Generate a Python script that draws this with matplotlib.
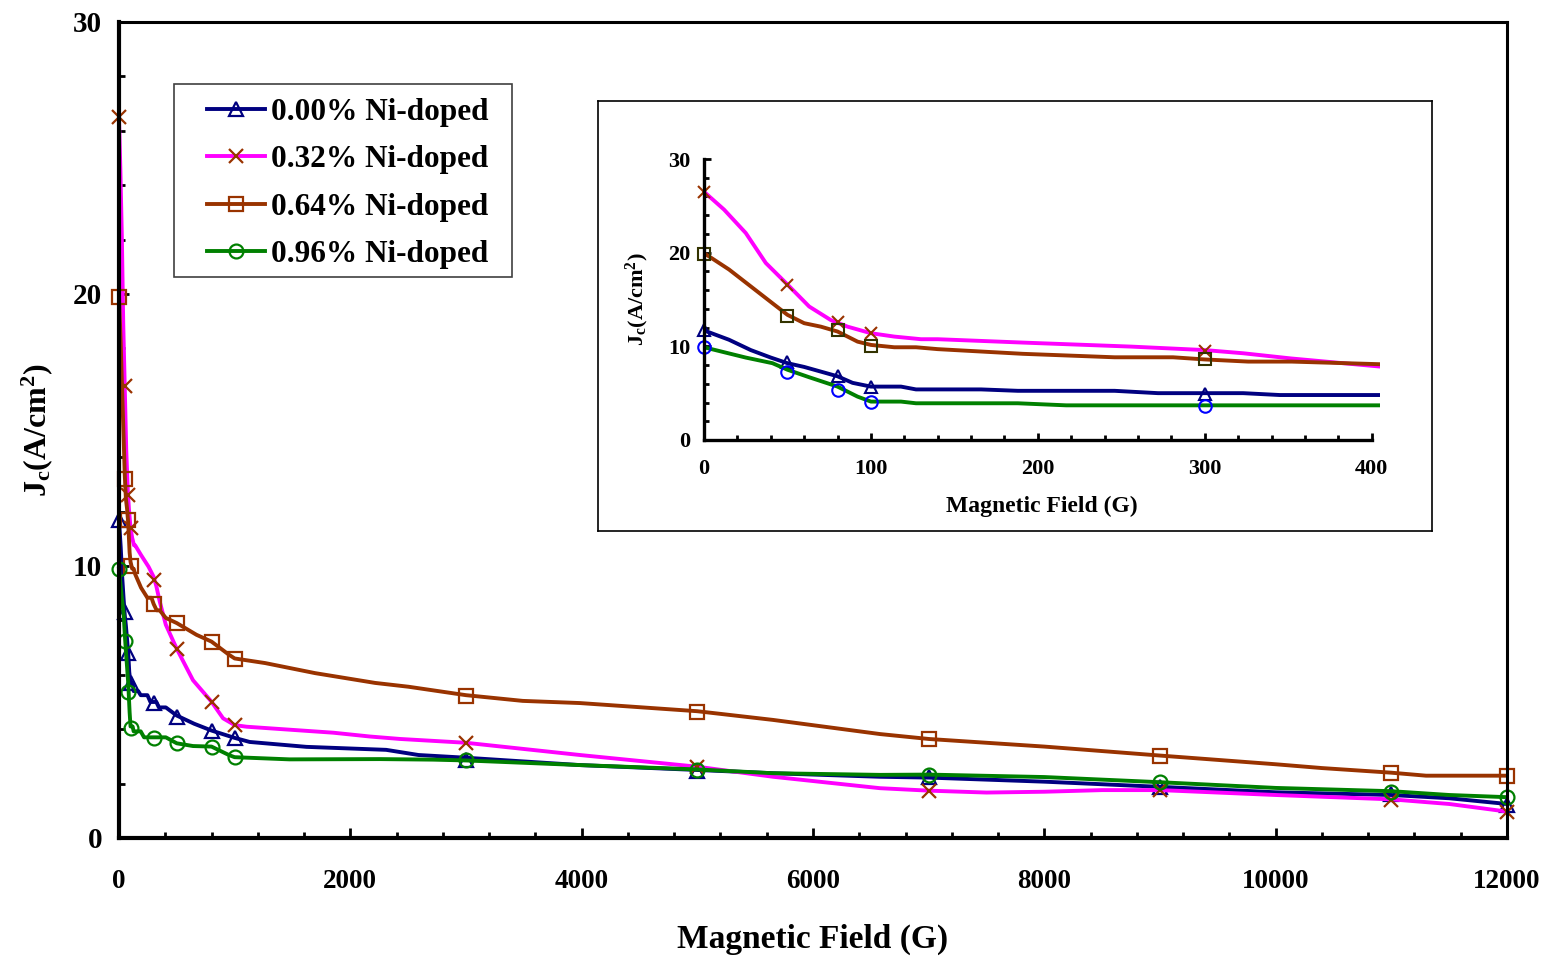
import matplotlib
matplotlib.use("Agg")
import matplotlib.pyplot as plt
from matplotlib.lines import Line2D
from matplotlib.patches import Rectangle
from matplotlib.ticker import MultipleLocator


# =========================
# 데이터
# =========================

SERIES_LABELS = ["0.00% Ni-doped", "0.32% Ni-doped", "0.64% Ni-doped", "0.96% Ni-doped"]

# marker positions (G)
MARK_X = [0, 50, 80, 100, 300, 500, 800, 1000, 3000, 5000, 7000, 9000, 11000, 12000]
INSET_MARK_X = [0, 50, 80, 100, 300]

NAVY_MY = [11.7, 8.3, 6.8, 5.7, 4.95, 4.46, 3.93, 3.66, 2.87, 2.47, 2.24, 1.86, 1.6, 1.22]
PINK_MY = [26.5, 16.6, 12.6, 11.4, 9.5, 6.95, 5.01, 4.15, 3.48, 2.6, 1.72, 1.76, 1.4, 0.97]
BROWN_MY = [19.9, 13.2, 11.7, 10.0, 8.6, 7.9, 7.22, 6.58, 5.23, 4.64, 3.63, 3.01, 2.38, 2.29]
GREEN_MY = [9.9, 7.25, 5.35, 4.05, 3.66, 3.48, 3.36, 2.97, 2.87, 2.5, 2.33, 2.05, 1.7, 1.5]

# line paths
NAVY_X = [0, 15, 28, 40, 50, 60, 70, 80, 89, 100, 118, 127, 166, 188, 246, 272, 323, 345, 405,
          500, 650, 800, 1000, 1130, 1620, 2310, 2590, 3000, 3985, 5000, 5655, 6580, 7000,
          8000, 9000, 10000, 11000, 11500, 12000]
NAVY_Y = [11.7, 10.7, 9.6, 8.8, 8.2, 7.8, 7.3, 6.8, 6.1, 5.7, 5.7, 5.4, 5.4, 5.25, 5.25, 5.0, 5.0, 4.8, 4.8,
          4.5, 4.2, 3.95, 3.68, 3.53, 3.35, 3.24, 3.05, 2.95, 2.68, 2.5, 2.38, 2.25, 2.22,
          2.07, 1.88, 1.68, 1.58, 1.46, 1.25]

PINK_X = [0, 12, 25, 37, 50, 63, 76, 86, 100, 114, 130, 140, 191, 256, 300, 323, 352, 405,
          500, 640, 800, 900, 1000, 1104, 1853, 2170, 2430, 3000, 3985, 5000, 5655, 6580, 7000,
          7500, 8000, 8500, 9000, 10000, 11000, 11500, 12000]
PINK_Y = [26.5, 24.6, 22.1, 18.9, 16.6, 14.25, 12.8, 12.1, 11.4, 11.04, 10.76, 10.76, 10.4, 9.97, 9.6, 9.26, 8.7, 7.84,
          6.95, 5.8, 5.01, 4.4, 4.15, 4.09, 3.87, 3.73, 3.64, 3.5, 3.05, 2.62, 2.25, 1.83, 1.74,
          1.67, 1.70, 1.76, 1.76, 1.58, 1.42, 1.25, 0.97]

BROWN_X = [0, 15, 28, 41, 50, 60, 70, 80, 92, 100, 114, 127, 140, 191, 246, 281, 300, 326, 352, 405,
           500, 670, 800, 950, 1000, 1264, 1696, 2215, 2503, 3000, 3490, 3985, 5000, 5655, 6580, 7000,
           8000, 9000, 10000, 10400, 11000, 11300, 12000]
BROWN_Y = [19.95, 18.2, 16.4, 14.6, 13.36, 12.47, 12.1, 11.58, 10.5, 10.15, 9.9, 9.9, 9.7, 9.2, 8.83, 8.83, 8.6, 8.37, 8.37, 8.09,
           7.9, 7.47, 7.22, 6.74, 6.6, 6.43, 6.06, 5.7, 5.56, 5.25, 5.04, 4.96, 4.66, 4.34, 3.82, 3.64,
           3.36, 3.03, 2.71, 2.57, 2.4, 2.29, 2.29]

GREEN_X = [0, 25, 41, 50, 63, 80, 92, 100, 118, 127, 188, 217, 405,
           500, 640, 800, 950, 1000, 1474, 2256, 2717, 3000, 3985, 5000, 5655, 6580, 7000,
           8000, 9000, 10000, 11000, 11500, 12000]
GREEN_Y = [9.9, 8.8, 8.2, 7.5, 6.7, 5.7, 4.63, 4.1, 4.1, 3.92, 3.92, 3.7, 3.7,
           3.48, 3.38, 3.36, 3.05, 2.97, 2.89, 2.9, 2.88, 2.85, 2.68, 2.52, 2.38, 2.32, 2.33,
           2.24, 2.05, 1.84, 1.72, 1.58, 1.5]


# =========================
# 스타일
# =========================

plt.rcParams["font.family"] = "Liberation Serif"
plt.rcParams["font.weight"] = "bold"
plt.rcParams["axes.labelweight"] = "bold"
plt.rcParams["mathtext.fontset"] = "custom"
plt.rcParams["mathtext.rm"] = "Liberation Serif:bold"
plt.rcParams["mathtext.it"] = "Liberation Serif:bold"
plt.rcParams["mathtext.bf"] = "Liberation Serif:bold"

BROWN = "#993300"
series = [
    dict(x=NAVY_X, y=NAVY_Y, my=NAVY_MY, color="#000080", marker="^", mec="#000080", imec="#000080"),
    dict(x=PINK_X, y=PINK_Y, my=PINK_MY, color="#FF00FF", marker="x", mec=BROWN, imec=BROWN),
    dict(x=BROWN_X, y=BROWN_Y, my=BROWN_MY, color=BROWN, marker="s", mec=BROWN, imec="#333300"),
    dict(x=GREEN_X, y=GREEN_Y, my=GREEN_MY, color="#008000", marker="o", mec="#008000", imec="#0000FF"),
]

fig = plt.figure(figsize=(15.49, 9.59), dpi=100)

# =========================
# 메인 그래프
# =========================

ax = fig.add_axes([0.0768, 0.1262, 0.8961, 0.8509])
for s in series:
    ax.plot(s["x"], s["y"], color=s["color"], lw=2.8, solid_joinstyle="round", clip_on=False)
    ax.plot(MARK_X, s["my"], linestyle="none", marker=s["marker"], ms=10, mfc="none",
            mec=s["mec"], mew=1.6, clip_on=False)

ax.set_xlim(0, 12000)
ax.set_ylim(0, 30)
ax.xaxis.set_major_locator(MultipleLocator(2000))
ax.xaxis.set_minor_locator(MultipleLocator(400))
ax.yaxis.set_major_locator(MultipleLocator(10))
ax.yaxis.set_minor_locator(MultipleLocator(2))
ax.tick_params(which="both", direction="in", top=False, right=False, width=2)
ax.tick_params(which="major", length=7)
ax.tick_params(which="minor", length=4)
ax.tick_params(axis="x", pad=22, labelsize=19.5)
ax.tick_params(axis="y", pad=12, labelsize=21)
for side in ["left", "bottom"]:
    ax.spines[side].set_linewidth(3)
for side in ["top", "right"]:
    ax.spines[side].set_linewidth(2.2)

ax.set_xlabel("Magnetic Field (G)", fontsize=24, labelpad=22)
ax.set_ylabel(r"J$_{c}$(A/cm$^{2}$)", fontsize=23, labelpad=13)

# legend frame box + legend contents
box = Rectangle((174 / 1549, 1 - 277 / 959), (512 - 174) / 1549, (277 - 84) / 959,
                transform=fig.transFigure, facecolor="white", edgecolor="#404040",
                lw=1.2, zorder=4, clip_on=False)
ax.add_patch(box)

handles = [
    Line2D([], [], color=s["color"], lw=2.8, marker=s["marker"], ms=10, mfc="none", mec=s["mec"], mew=1.6)
    for s in series
]
leg = ax.legend(handles, SERIES_LABELS, loc="upper left", bbox_to_anchor=(0.1336, 0.8975),
                bbox_transform=fig.transFigure, fontsize=22.5, frameon=False,
                handlelength=1.85, handletextpad=0.2, labelspacing=0.58, borderpad=0,
                borderaxespad=0)
leg.set_zorder(5)

# =========================
# 삽입 그래프
# =========================

frame = fig.add_axes([0.3861, 0.4463, 0.5384, 0.4484])
frame.set_xticks([])
frame.set_yticks([])
frame.set_facecolor("white")
for sp in frame.spines.values():
    sp.set_linewidth(1.2)

ins = fig.add_axes([0.4545, 0.5412, 0.4364, 0.2930])
ins.patch.set_alpha(0)
for s in series:
    ins.plot(s["x"], s["y"], color=s["color"], lw=2.8, solid_joinstyle="round")
    ins.plot(INSET_MARK_X, s["my"][:len(INSET_MARK_X)], linestyle="none", marker=s["marker"], ms=9,
             mfc="none", mec=s["imec"], mew=1.5, clip_on=False)

ins.set_xlim(0, 405)
ins.set_ylim(0, 30)
ins.spines["top"].set_visible(False)
ins.spines["right"].set_visible(False)
ins.spines["left"].set_linewidth(2.4)
ins.spines["bottom"].set_linewidth(2.4)
ins.spines["bottom"].set_bounds(0, 400)
ins.xaxis.set_major_locator(MultipleLocator(100))
ins.xaxis.set_minor_locator(MultipleLocator(20))
ins.yaxis.set_major_locator(MultipleLocator(10))
ins.yaxis.set_minor_locator(MultipleLocator(2))
ins.tick_params(which="both", direction="in", width=2, labelsize=16)
ins.tick_params(which="major", length=5)
ins.tick_params(which="minor", length=3.5)
ins.tick_params(axis="x", pad=14)
ins.tick_params(axis="y", pad=10)
ins.set_xlabel("Magnetic Field (G)", fontsize=17, labelpad=12)
ins.set_ylabel(r"J$_{c}$(A/cm$^{2}$)", fontsize=16, labelpad=12)

fig.savefig("out.png", dpi=100)
